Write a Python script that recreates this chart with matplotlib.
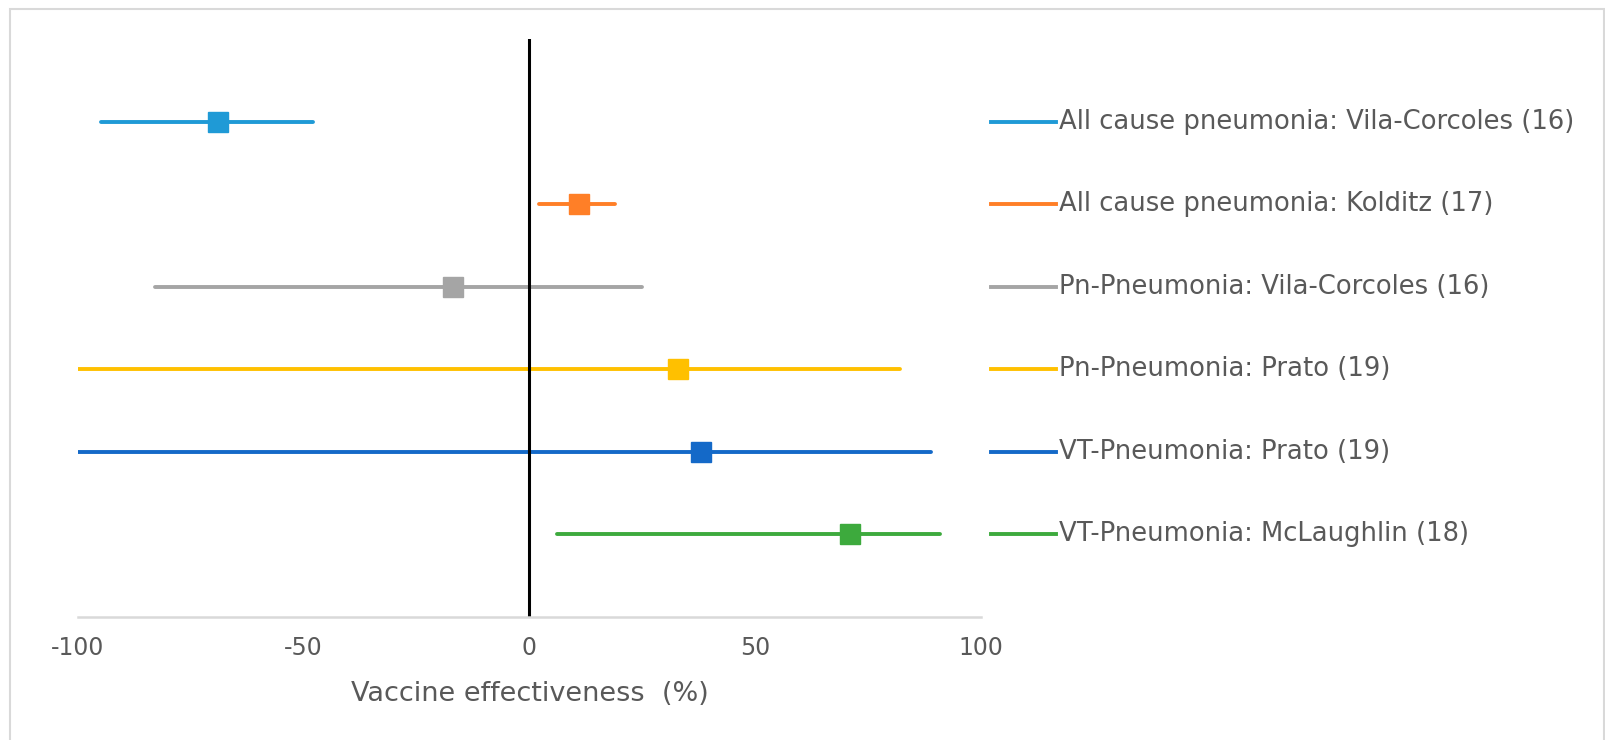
import matplotlib
matplotlib.use("Agg")
import matplotlib.pyplot as plt
from matplotlib.patches import Rectangle
from matplotlib.lines import Line2D

# Vaccine effectiveness estimates with 95% CI, top row first
studies = [
    "All cause pneumonia: Vila-Corcoles (16)",
    "All cause pneumonia: Kolditz (17)",
    "Pn-Pneumonia: Vila-Corcoles (16)",
    "Pn-Pneumonia: Prato (19)",
    "VT-Pneumonia: Prato (19)",
    "VT-Pneumonia: McLaughlin (18)",
]
ve = [-69, 11, -17, 33, 38, 71]
ci_low = [-95, 2, -83, -100, -100, 6]
ci_high = [-48, 19, 25, 82, 89, 91]
colors = ["#1F9AD6", "#FF7F27", "#A5A5A5", "#FFC000", "#1469C8", "#3DAA3D"]

plt.rcParams["font.family"] = ["DejaVu Sans"]
plt.rcParams["axes.unicode_minus"] = False

fig = plt.figure(figsize=(16.06, 7.40), dpi=100)
fig.patch.set_facecolor("white")

# light frame around the chart area
fig.patches.append(Rectangle((10 / 1606, -0.05), 1594 / 1606, 1.05 - 9 / 740,
                             transform=fig.transFigure, fill=False,
                             edgecolor="#D9D9D9", linewidth=1.5))

ax = fig.add_axes([78 / 1606, 1 - 617 / 740, 903 / 1606, 578 / 740])

n = len(studies)
ypos = [n - i for i in range(n)]

for y, m, lo, hi, c, lab in zip(ypos, ve, ci_low, ci_high, colors, studies):
    ax.plot([lo, hi], [y, y], color=c, linewidth=2.8, solid_capstyle="round")
    ax.plot(m, y, marker="s", markersize=14, color=c, linestyle="none")
    # legend entry on the right, level with its row
    ax.add_line(Line2D([1.011, 1.083], [y, y], color=c, linewidth=2.8,
                       transform=ax.get_yaxis_transform(), clip_on=False))
    ax.text(1.086, y, lab, transform=ax.get_yaxis_transform(),
            fontsize=18.6, color="#595959", va="center", ha="left")

ax.axvline(0, color="black", linewidth=2.2)

ax.set_xlim(-100, 100)
ax.set_ylim(0, n + 1)
ax.set_xticks([-100, -50, 0, 50, 100])
ax.set_yticks([])
ax.tick_params(axis="x", length=0, pad=14, labelsize=17, labelcolor="#595959")
for side in ["top", "right", "left"]:
    ax.spines[side].set_visible(False)
ax.spines["bottom"].set_color("#D9D9D9")
ax.spines["bottom"].set_linewidth(1.8)
ax.set_xlabel("Vaccine effectiveness  (%)", fontsize=19.5, color="#595959",
              labelpad=15)

fig.savefig("out.png", dpi=100, facecolor="white")
